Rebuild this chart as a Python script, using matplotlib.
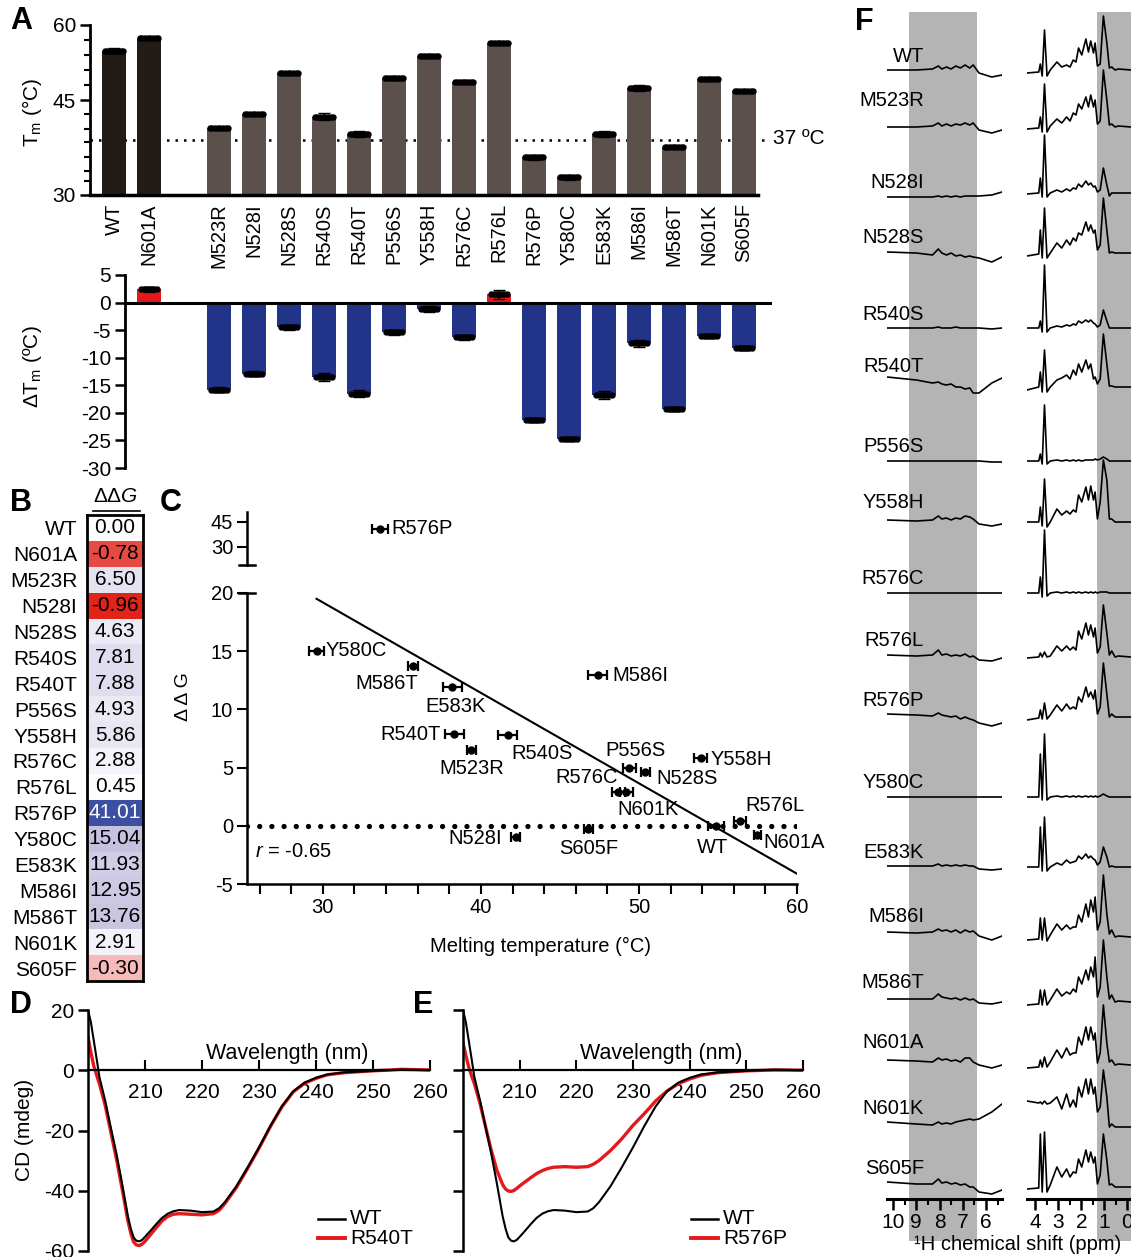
import numpy as np
import matplotlib
matplotlib.use("Agg")
import matplotlib.pyplot as plt
from matplotlib.colors import LinearSegmentedColormap, TwoSlopeNorm
from matplotlib.lines import Line2D

plt.rcParams['font.family'] = ['Liberation Sans', 'DejaVu Sans']
plt.rcParams['mathtext.fontset'] = 'custom'
plt.rcParams['mathtext.rm'] = 'Liberation Sans'
plt.rcParams['mathtext.it'] = 'Liberation Sans:italic'
plt.rcParams['axes.unicode_minus'] = False
plt.rcParams['font.size'] = 14

## ---- data for panels A, B, C (same order)
names = ['WT', 'N601A', 'M523R', 'N528I', 'N528S', 'R540S', 'R540T', 'P556S', 'Y558H',
         'R576C', 'R576L', 'R576P', 'Y580C', 'E583K', 'M586I', 'M586T', 'N601K', 'S605F']
tm = [54.9, 57.5, 39.4, 42.2, 50.4, 41.7, 38.3, 49.4, 53.9,
      48.7, 56.4, 33.6, 29.6, 38.2, 47.4, 35.7, 49.2, 46.8]
tm_sd = [0.5, 0.2, 0.3, 0.3, 0.3, 0.6, 0.6, 0.4, 0.4,
         0.4, 0.4, 0.5, 0.5, 0.6, 0.6, 0.3, 0.4, 0.3]
dtm = [0.0, 2.4, -15.8, -12.9, -4.5, -13.5, -16.5, -5.4, -1.2,
       -6.3, 1.5, -21.3, -24.7, -16.8, -7.4, -19.3, -6.0, -8.2]
dtm_sd = [0.0, 0.5, 0.5, 0.5, 0.5, 0.8, 0.6, 0.5, 0.6,
          0.5, 0.8, 0.4, 0.3, 0.7, 0.6, 0.3, 0.1, 0.4]
ddg = [0.00, -0.78, 6.50, -0.96, 4.63, 7.81, 7.88, 4.93, 5.86,
       2.88, 0.45, 41.01, 15.04, 11.93, 12.95, 13.76, 2.91, -0.30]
fit_slope = -0.777
fit_icpt = 42.5
r_value = -0.65

# Tm axis as printed in A: bottom of the axis carries the "30" label
tm_ticks = [26, 45, 60]
tm_ticklabels = ['30', '45', '60']

## ---- CD spectra (D, E)
wl = [200, 200.5, 201, 201.5, 202, 203, 204, 205, 206, 207,
      207.5, 208, 208.5, 209, 209.5, 210, 211, 212, 213, 214,
      215, 216, 218, 220, 222, 223, 224, 226, 228, 230,
      232, 234, 236, 238, 240, 242, 245, 250, 255, 260]
cd_wt = [20, 16, 10, 4, -2.2, -10, -19, -27.8, -37.8, -48.5,
         -52.5, -55.5, -56.6, -56.8, -56.3, -55.3, -53.2, -51, -49, -47.6,
         -46.8, -46.4, -46.6, -47.1, -46.9, -45.8, -43.8, -38.6, -32.3, -25.6,
         -18.5, -12.0, -7.0, -4.1, -2.5, -1.4, -0.7, -0.2, 0.2, 0]
cd_r540t = [11, 6, 1.5, -1.5, -4.5, -11.5, -20.5, -29.5, -39.5, -50,
            -54, -57, -58, -58.2, -57.7, -56.8, -54.5, -52.2, -50, -48.5,
            -47.8, -47.6, -47.8, -48, -47.6, -46.5, -44.3, -39, -32.6, -25.9,
            -18.7, -12.2, -7.2, -4.3, -2.7, -1.5, -0.8, -0.2, 0.3, 0.1]
cd_r576p = [9, 5, 1.1, -1.8, -4.4, -11, -18.9, -26.7, -33.3, -38.0,
            -39.4, -40.1, -40.2, -39.9, -39.2, -38.4, -37.0, -35.6, -34.3, -33.3,
            -32.6, -32.2, -32.0, -32.2, -32.0, -31.2, -30.0, -26.7, -22.8, -18.3,
            -14.4, -10.2, -6.9, -4.5, -2.9, -1.7, -0.8, -0.2, 0.1, 0]

## ---- 1D NMR traces (F), heights in px above each baseline
nmr_names = ['WT', 'M523R', 'N528I', 'N528S', 'R540S', 'R540T', 'P556S', 'Y558H', 'R576C',
             'R576L', 'R576P', 'Y580C', 'E583K', 'M586I', 'M586T', 'N601A', 'N601K', 'S605F']
ppm_l = [10.26, 9.0, 8.3, 8.05, 7.9, 7.7, 7.5, 7.3, 7.1, 6.9, 6.7, 6.55, 6.3, 5.75, 5.31]
ppm_r = [4.36, 3.85, 3.78, 3.70, 3.60, 3.49, 3.35, 3.06, 2.85, 2.64, 2.49, 2.35, 2.23, 2.12,
         1.98, 1.80, 1.69, 1.59, 1.47, 1.40, 1.30, 1.18, 1.04, 0.89, 0.78, 0.68, 0.53, 0.39, -0.16]
nmr_left = [
    [0, 0, 1, 4, 1, 3, 1, 4, 2, 5, 2, 5, -3, -7, -5],
    [0, 0, 1, 4, 1, 3, 1, 3, 2, 4, 2, 4, -3, -6, -3],
    [-4, -4, -4, -3, -4, -3, -4, -3, -4, -3, -3, -3, -3, -2, 1],
    [1, 0, -2, 4, 0, -2, 0, -3, -2, -4, -3, -4, -5, -9, -4],
    [0, 0, 0, 1, 0, 0, 0, 1, 0, 0, 0, 0, 0, -1, 0],
    [10, 7, 4, 5, 3, 2, 3, 0, 0, -2, -1, -6, -6, 4, 9],
    [0, 0, 0, 0, 0, 0, 0, 0, 0, 0, 0, 0, 0, -1, -1],
    [2, 1, 2, 6, 3, 4, 2, 4, 3, 6, 5, 3, -2, -4, -2],
    [0, 0, 0, 0, 0, 0, 0, 0, 0, 0, 0, 0, 0, 0, 0],
    [2, 1, 2, 7, 2, 3, 1, 2, 1, 3, 0, 1, -3, -4, -1],
    [3, 2, 1, 4, 2, 1, 0, 1, -2, 0, -2, -3, -6, -9, -6],
    [0, 0, 0, 0, 0, 0, 0, 0, 0, 0, 0, 0, 0, 0, 0],
    [1, 1, 1, 3, 1, 2, 1, 2, 1, 2, 1, 1, -2, -3, -2],
    [5, 4, 5, 8, 6, 7, 5, 7, 4, 7, 5, 6, 1, -3, 1],
    [3, 3, 3, 8, 5, 4, 3, 4, 2, 4, 2, 3, -1, -2, 0],
    [5, 4, 3, 7, 5, 6, 4, 5, 3, 7, 7, 3, 0, -3, 0],
    [0, -2, -3, 0, -2, -1, -2, 0, 1, 2, 3, 2, 3, 10, 18],
    [5, 3, 3, 8, 4, 5, 3, 4, 2, 3, 0, 0, -5, -7, -3],
]
nmr_right = [
    [-3, -2, 6, -6, 40, -6, 0, 8, 3, 5, 3, 10, 8, 22, 15, 31, 18, 29, 17, 27, 4, 6, 54, 27, 2, 3, 0, 1, 0],
    [-2, -1, 10, -5, 43, -5, 1, 8, 4, 10, 6, 14, 12, 23, 18, 30, 20, 32, 20, 27, 3, 6, 57, 27, 2, 3, 0, 1, 0],
    [-1, 0, 15, -4, 58, -4, 0, 3, 1, 4, 2, 5, 4, 9, 6, 12, 8, 10, 6, 7, 1, 3, 25, 8, -3, 0, 0, 0, 0],
    [-3, -1, 23, -5, 45, -5, 0, 10, 5, 13, 8, 15, 12, 20, 18, 31, 22, 28, 20, 23, 3, 8, 55, 23, 0, 1, 0, 0, 0],
    [0, 0, 7, -4, 63, -4, 0, 2, 1, 3, 2, 4, 3, 7, 5, 8, 6, 8, 5, 4, 1, 3, 18, 7, 0, 0, 0, 0, 0],
    [-3, 0, 15, -5, 37, -5, 0, 7, 9, 12, 8, 17, 12, 23, 15, 27, 18, 23, 8, 10, 3, 8, 53, 23, 1, 1, 0, 0, 0],
    [0, 0, 7, -3, 56, -3, 0, 1, 0, 1, 0, 1, 0, 1, 0, 1, 1, 1, 1, 2, 1, 2, 4, 2, 0, 0, 0, 0, 0],
    [0, 0, 15, -4, 43, -5, 0, 13, 7, 11, 8, 12, 10, 27, 20, 35, 22, 36, 22, 30, 3, 20, 62, 42, 3, 3, 0, 0, 0],
    [0, 0, 16, -4, 63, -3, 0, 1, 0, 1, 0, 1, 0, 1, 0, 1, 0, 1, 0, 1, 0, 1, 1, 1, 0, 0, 0, 0, 0],
    [-1, 0, 4, 0, 5, 0, 1, 11, 6, 11, 7, 10, 7, 26, 18, 34, 22, 32, 20, 29, 4, 10, 52, 24, 2, 6, 0, 1, 0],
    [-3, -1, 7, -2, 14, -2, 2, 12, 6, 13, 8, 10, 8, 20, 15, 30, 20, 25, 18, 27, 3, 10, 54, 23, 0, 3, 0, 0, 0],
    [0, 0, 43, -3, 63, -3, 0, 1, 0, 1, 0, 1, 0, 1, 0, 1, 0, 1, 0, 1, 0, 1, 3, 1, 0, 0, 0, 0, 0],
    [0, 0, 40, -4, 50, -4, 0, 4, 2, 7, 4, 5, 6, 11, 8, 13, 9, 11, 8, 7, 2, 5, 20, 10, 0, 1, 0, 0, 0],
    [-3, -2, 19, -3, 19, -4, 2, 13, 7, 12, 8, 10, 10, 22, 15, 33, 20, 37, 25, 40, 7, 15, 62, 23, 3, 7, 0, 1, 0],
    [-3, -2, 12, -3, 12, -3, 2, 13, 6, 10, 8, 13, 10, 25, 18, 32, 22, 35, 25, 45, 5, 15, 62, 25, 3, 7, 0, 1, 0],
    [-3, -2, 5, -2, 8, -2, 3, 15, 7, 17, 10, 12, 12, 28, 20, 38, 25, 38, 25, 32, 2, 12, 60, 22, 3, 5, 0, 1, 0],
    [21, 19, 20, 18, 21, 18, 19, 25, 13, 28, 15, 22, 15, 35, 25, 43, 28, 43, 28, 35, 10, 15, 52, 25, -5, -2, -5, -5, -5],
    [-2, -1, 53, -5, 55, -5, 2, 20, 10, 18, 10, 15, 14, 28, 20, 37, 25, 35, 24, 30, 3, 12, 53, 27, 2, 3, 0, 0, 0],
]

## ---- layout (pixels of the 1131x1257 picture)
W, H = 1131, 1257
fig = plt.figure(figsize=(W / 100, H / 100), dpi=100)


def add_ax(l, t, r, b):
    return fig.add_axes([l / W, 1 - b / H, (r - l) / W, (b - t) / H])


def ftext(x, y, s, **kw):
    return fig.text(x / W, 1 - y / H, s, **kw)


def fline(xs, ys, **kw):
    fig.add_artist(Line2D([x / W for x in xs], [1 - y / H for y in ys], transform=fig.transFigure, **kw))


slots = [0, 1] + list(range(3, 19))
jit = [-0.27, -0.19, -0.11, -0.04, 0.04, 0.11, 0.19, 0.27]
RED = '#e3191c'
BLUE = '#22348a'

# ---------------- A (top)
ax = add_ax(90, 25, 758, 195)
ax.set_xlim(-0.686, 18.4)
ax.set_ylim(26, 60)
cols = ['#231b16' if n in ('WT', 'N601A') else '#5b504c' for n in names]
ax.plot([-0.686, 18.75], [37, 37], ls=(0, (1, 2.4)), color='k', lw=1.8, clip_on=False, zorder=1)
ax.bar(slots, tm, width=0.66, color=cols, zorder=2)
ax.errorbar(slots, tm, yerr=tm_sd, fmt='none', ecolor='k', elinewidth=1.2, capsize=4, zorder=3)
for dx in jit:
    ax.plot(np.array(slots) + dx, tm, 'o', ms=3.6, color='k', zorder=4, clip_on=False)
ax.spines[['top', 'right']].set_visible(False)
ax.spines['left'].set_linewidth(2)
ax.spines['bottom'].set_linewidth(2.5)
ax.set_yticks(tm_ticks, tm_ticklabels)
ax.set_yticks([28.9, 30.9, 33.7, 36.7, 39.3, 42.2, 48, 51, 54, 57], minor=True)
ax.tick_params(axis='y', which='major', length=7, width=1.8, labelsize=15, pad=3)
ax.tick_params(axis='y', which='minor', length=4, width=1.5)
ax.set_xticks(slots, names, rotation=90)
ax.tick_params(axis='x', length=0, pad=6, labelsize=14.5)
ftext(773, 138, '37 ºC', va='center', ha='left', fontsize=15)
ftext(32, 112, 'T$_{\\mathrm{m}}$ (°C)', rotation=90, ha='center', va='center', fontsize=15)
ftext(10, 21, 'A', fontsize=22, fontweight='bold', va='center')

# ---------------- A (bottom, delta Tm)
ax = add_ax(125, 275, 772, 468)
ax.set_xlim(0.314, 18.8)
ax.set_ylim(-30, 5)
ax.bar(slots[1:], dtm[1:], width=0.66, color=[RED if v > 0 else BLUE for v in dtm[1:]], zorder=2)
ax.axhline(0, color='k', lw=2.2, zorder=3)
ax.errorbar(slots[1:], dtm[1:], yerr=dtm_sd[1:], fmt='none', ecolor='k', elinewidth=1.2,
            capsize=4, zorder=4)
for dx in jit:
    ax.plot(np.array(slots[1:]) + dx * 0.8, dtm[1:], 'o', ms=3.6, color='k', zorder=5)
ax.spines[['top', 'right', 'bottom']].set_visible(False)
ax.spines['left'].set_linewidth(2)
ax.set_xticks([])
ax.set_yticks(range(-30, 6, 5))
ax.tick_params(axis='y', length=7, width=1.8, labelsize=15, pad=3)
ftext(33, 367, 'ΔT$_{\\mathrm{m}}$ (ºC)', rotation=90, ha='center', va='center', fontsize=15)

# ---------------- B (table)
ddg_cmap = LinearSegmentedColormap.from_list(
    'ddg', [(0, '#e2231a'), (0.5, '#ffffff'), (0.683, '#c5c1e0'), (1, '#3c4fa1')])
ddg_norm = TwoSlopeNorm(vmin=min(ddg), vcenter=0, vmax=max(ddg))
ax = add_ax(87, 515, 143, 981)
ax.imshow(np.array(ddg)[:, None], cmap=ddg_cmap, norm=ddg_norm, aspect='auto',
          extent=(0, 1, len(ddg), 0), interpolation='nearest')
for i, v in enumerate(ddg):
    ax.text(0.5, i + 0.5, f'{v:.2f}', ha='center', va='center', fontsize=15,
            color='white' if v > 30 else 'k')
ax.plot([0.1, 0.95], [-0.15, -0.15], color='k', lw=1.2, clip_on=False)
ax.set_xlim(0, 1)
ax.set_ylim(len(ddg), 0)
ax.set_xticks([])
ax.set_yticks(np.arange(len(names)) + 0.5, names)
ax.tick_params(axis='y', length=0, pad=7, labelsize=15)
for s in ax.spines.values():
    s.set_linewidth(2)
ftext(116, 497, 'ΔΔ$\\mathit{G}$', ha='center', va='center', fontsize=15)
ftext(10, 503, 'B', fontsize=22, fontweight='bold', va='center')

# ---------------- C (scatter with broken axis)
cx = add_ax(247, 593, 797, 884)
ct = add_ax(247, 512, 797, 565)
cx.set_xlim(25.2, 60)
cx.set_ylim(-5, 20)
ct.set_xlim(25.2, 60)
ct.set_ylim(19, 51)
cx.plot([25.2, 60], [0, 0], ls=(0, (0.01, 2.3)), lw=3.8, color='k', dash_capstyle='round', zorder=1)
xs = np.array([min(tm), 60])
cx.plot(xs, fit_slope * xs + fit_icpt, color='k', lw=1.5, zorder=2)
lab_off = {
    'WT': (-4, -22, 'center'), 'N601A': (6, -8, 'left'), 'M523R': (0, -18, 'center'),
    'N528I': (-14, -2, 'right'), 'N528S': (11, -7, 'left'), 'R540S': (4, -19, 'left'),
    'R540T': (-13, 0, 'right'), 'P556S': (6, 18, 'center'), 'Y558H': (10, -2, 'left'),
    'R576C': (-1, 15, 'right'), 'R576L': (35, 15, 'center'), 'R576P': (12, 0, 'left'),
    'Y580C': (9, 0, 'left'), 'E583K': (3, -20, 'center'), 'M586I': (15, 0, 'left'),
    'M586T': (5, -18, 'right'), 'N601K': (22, -18, 'center'), 'S605F': (0, -19, 'center'),
}
for i, n in enumerate(names):
    a = ct if ddg[i] > 20 else cx
    a.errorbar(tm[i], ddg[i], xerr=tm_sd[i], fmt='o', ms=5, color='k', ecolor='k',
               elinewidth=1.6, capsize=3.5, capthick=1.6, zorder=3)
    dx, dy, ha = lab_off[n]
    a.annotate(n, (tm[i], ddg[i]), xytext=(dx, dy), textcoords='offset pixels',
               ha=ha, va='center', fontsize=14.5)
for a in (cx, ct):
    a.spines[['top', 'right']].set_visible(False)
    a.spines['left'].set_linewidth(1.8)
    a.tick_params(axis='both', which='both', length=7, width=1.5, labelsize=14.5, pad=3)
cx.spines['bottom'].set_linewidth(1.8)
cx.set_xticks([30, 40, 50, 60])
cx.set_xticks(np.arange(26, 60, 2), minor=True)
cx.set_yticks([-5, 0, 5, 10, 15, 20])
ct.spines['bottom'].set_visible(False)
ct.set_xticks([])
ct.set_yticks([30, 45])
cx.plot([-0.015, 0.015], [1, 1], transform=cx.transAxes, color='k', lw=1.8, clip_on=False)
ct.plot([-0.015, 0.015], [0, 0], transform=ct.transAxes, color='k', lw=1.8, clip_on=False)
cx.text(0.015, 0.11, '$\\mathit{r}$ = ' + f'{r_value:.2f}', transform=cx.transAxes,
        ha='left', va='center', fontsize=14.5)
ftext(184, 697, 'Δ Δ G', rotation=90, ha='center', va='center', fontsize=14)
ftext(540, 946, 'Melting temperature (°C)', ha='center', va='center', fontsize=14.5)
ftext(160, 503, 'C', fontsize=22, fontweight='bold', va='center')

# ---------------- D, E (CD spectra)
for (l, r, mut, mname, letter, lx) in ((88, 430, cd_r540t, 'R540T', 'D', 10),
                                        (463, 803, cd_r576p, 'R576P', 'E', 413)):
    a = add_ax(l, 1010, r, 1251)
    a.set_xlim(200, 260)
    a.set_ylim(-60, 20)
    a.plot(wl, mut, color=RED, lw=2.4)
    a.plot(wl, cd_wt, color='k', lw=1.5)
    a.spines[['top', 'right']].set_visible(False)
    a.spines['bottom'].set_position(('data', 0))
    a.spines['bottom'].set_linewidth(1.6)
    a.spines['left'].set_linewidth(1.8)
    a.set_xticks([210, 220, 230, 240, 250, 260])
    a.tick_params(axis='x', direction='in', length=7, width=1.5, pad=9, labelsize=15)
    a.set_yticks([20, 0, -20, -40, -60])
    a.tick_params(axis='y', length=7, width=1.8, labelsize=15, pad=3)
    if letter == 'E':
        a.set_yticklabels([])
    a.text(235, 5.7, 'Wavelength (nm)', ha='center', va='center', fontsize=15.5)
    lx0 = r - 112
    fline([lx0, lx0 + 27], [1219, 1219], color='k', lw=1.8)
    fline([lx0, lx0 + 27], [1238, 1238], color=RED, lw=2.8)
    ftext(lx0 + 32, 1219, 'WT', va='center', fontsize=15)
    ftext(lx0 + 32, 1238, mname, va='center', fontsize=15)
    ftext(lx, 1005, letter, fontsize=22, fontweight='bold', va='center')
ftext(25, 1130, 'CD (mdeg)', rotation=90, ha='center', va='center', fontsize=15)

# ---------------- F (1D 1H NMR)
nmr_base = [70, 127, 193, 253, 328, 387, 461, 522, 593, 657, 717, 797, 867, 937, 1002, 1065, 1122, 1187]
nmr_lab_y = [57, 100, 183, 238, 315, 367, 446, 502, 579, 640, 701, 783, 853, 917, 983, 1043, 1108, 1168]
fl = add_ax(887, 12, 1002, 1199)
fr = add_ax(1027, 12, 1131, 1199)
for a, lim, shade in ((fl, (10.26, 5.31), (9.33, 6.4)), (fr, (4.36, -0.16), (1.31, -0.3))):
    a.set_xlim(*lim)
    a.set_ylim(1199, 12)
    a.axvspan(*shade, ymin=-0.035, ymax=1, color='#b4b4b4', lw=0, zorder=0, clip_on=False)
    a.spines[['top', 'right', 'left']].set_visible(False)
    a.spines['bottom'].set_linewidth(2.2)
    a.set_yticks([])
    a.tick_params(axis='x', which='major', length=8, width=1.8, pad=2, labelsize=15)
    a.tick_params(axis='x', which='minor', length=4, width=1.5)
fl.set_xticks([10, 9, 8, 7, 6])
fl.set_xticks([9.5, 8.5, 7.5, 6.5, 5.5], minor=True)
fr.set_xticks([4, 3, 2, 1, 0])
fr.set_xticks([3.5, 2.5, 1.5, 0.5], minor=True)
for i, n in enumerate(nmr_names):
    b = nmr_base[i]
    fl.plot(ppm_l, b - np.array(nmr_left[i]), color='k', lw=1.2)
    fr.plot(ppm_r, b - np.array(nmr_right[i]), color='k', lw=1.2)
    ftext(924, nmr_lab_y[i], n, ha='right', va='center', fontsize=14.5)
ftext(1018, 1245, '¹H chemical shift (ppm)', ha='center', va='center', fontsize=14.5)
ftext(855, 22, 'F', fontsize=22, fontweight='bold', va='center')

fig.savefig('out.png', dpi=100)
